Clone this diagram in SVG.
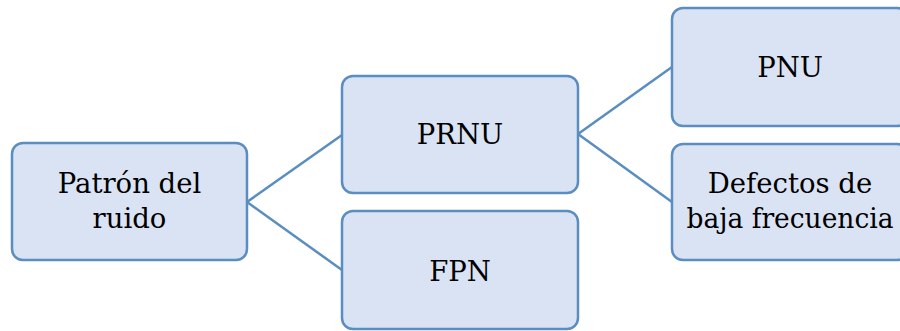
<svg xmlns="http://www.w3.org/2000/svg" width="900" height="331" viewBox="0 0 900 331">
<style>
.box{fill:#dae3f3;stroke:#5a8dc1;stroke-width:2.5}
.t{font-family:'DejaVu Serif',serif;font-size:27.5px;fill:#000;text-anchor:middle}
.c{stroke:#5a8dc1;stroke-width:2.5;fill:none}
</style>
<rect width="900" height="331" fill="#fff"/>
<g id="connectors">
<line class="c" x1="247" y1="202" x2="342" y2="135"/>
<line class="c" x1="247" y1="202" x2="342" y2="270"/>
<line class="c" x1="578" y1="134" x2="672" y2="67"/>
<line class="c" x1="578" y1="134" x2="672" y2="202"/>
</g>
<g id="patron">
<rect class="box" x="12" y="143" width="235" height="117" rx="11"/>
<text class="t" x="129.5" y="193">Patrón del</text>
<text class="t" x="129.5" y="228">ruido</text>
</g>
<g id="prnu">
<rect class="box" x="342" y="76" width="236" height="117" rx="11"/>
<text class="t" x="460" y="144">PRNU</text>
</g>
<g id="fpn">
<rect class="box" x="342" y="211" width="236" height="118" rx="11"/>
<text class="t" x="460" y="281">FPN</text>
</g>
<g id="pnu">
<rect class="box" x="672" y="8" width="236" height="118" rx="11"/>
<text class="t" x="790" y="77">PNU</text>
</g>
<g id="defectos">
<rect class="box" x="672" y="144" width="236" height="116" rx="11"/>
<text class="t" x="790" y="193">Defectos de</text>
<text class="t" x="790" y="228" textLength="207" lengthAdjust="spacingAndGlyphs">baja frecuencia</text>
</g>
</svg>
